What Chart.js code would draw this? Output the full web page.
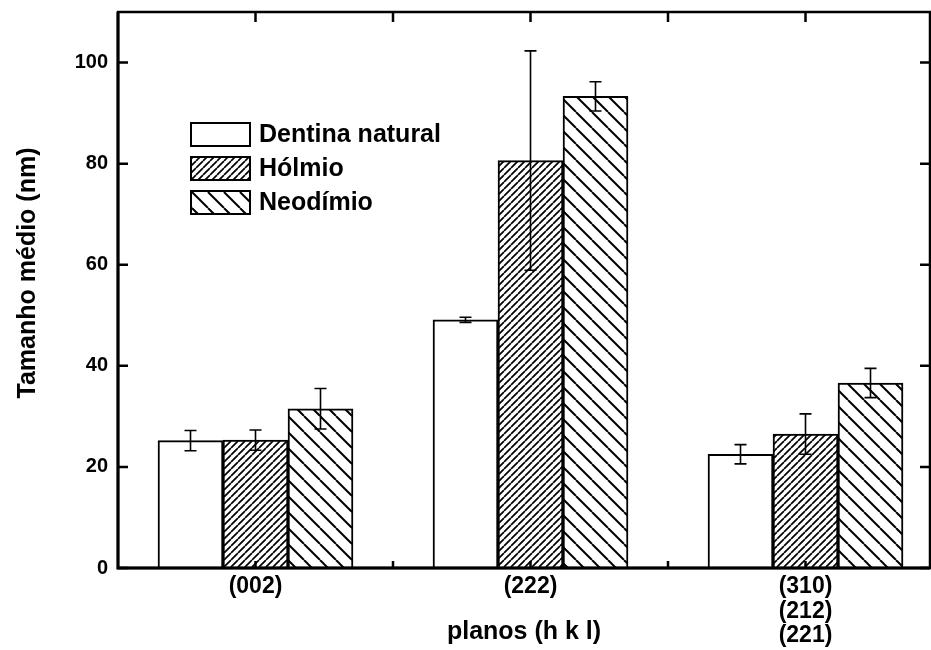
<!DOCTYPE html>
<html><head><meta charset="utf-8">
<script src="https://cdn.jsdelivr.net/npm/chart.js@4.4.0/dist/chart.umd.min.js"></script>
<style>html,body{margin:0;padding:0;background:#fff;overflow:hidden}canvas{display:block}</style>
</head><body>
<canvas id="c" width="931" height="650"></canvas>
<script>
// ---- data ----
const categories = ['(002)', '(222)', ['(310)', '(212)', '(221)']];
const seriesNames = ['Dentina natural', 'Hólmio', 'Neodímio'];
const dentina = [25.2, 49.1, 22.5];
const dentinaErr = [2.0, 0.5, 1.9];
const holmio = [25.3, 80.6, 26.5];
const holmioErr = [2.0, 21.7, 4.0];
const neodimio = [31.5, 93.3, 36.6];
const neodimioErr = [4.0, 2.9, 2.9];
const yTicks = [0, 20, 40, 60, 80, 100];
const xMidTicks = [0.5, 1.5];
const yTitle = 'Tamanho médio (nm)';
const xTitle = 'planos (h k l)';

// ---- styling ----
const FAMILY = '"Liberation Sans", Arial, Helvetica, sans-serif';
const canvas = document.getElementById('c');
const mainCtx = canvas.getContext('2d');

function hatch(size, lw, dir) {
  const c = document.createElement('canvas');
  c.width = size; c.height = size;
  const g = c.getContext('2d');
  g.fillStyle = '#fff'; g.fillRect(0, 0, size, size);
  g.strokeStyle = '#000'; g.lineWidth = lw;
  g.beginPath();
  for (let k = -1; k <= 1; k++) {
    if (dir === '/') { g.moveTo(k * size, size); g.lineTo(k * size + size, 0); }
    else { g.moveTo(k * size, 0); g.lineTo(k * size + size, size); }
  }
  g.stroke();
  return mainCtx.createPattern(c, 'repeat');
}
const fills = ['#ffffff', hatch(7, 1.7, '/'), hatch(16, 2, '\\')];

const seriesValues = [dentina, holmio, neodimio];
const seriesErrors = [dentinaErr, holmioErr, neodimioErr];

const datasets = seriesNames.map((name, si) => ({
  label: name,
  data: seriesValues[si].map((v, i) => ({ x: i, y: v })),
  errors: seriesErrors[si],
  backgroundColor: fills[si],
  borderColor: '#000',
  borderWidth: 2,
  barThickness: 65
}));

const decor = {
  id: 'decor',
  afterDatasetsDraw(chart) {
    const { ctx, chartArea: a, scales: { x, y } } = chart;
    ctx.save();
    // error bars
    ctx.strokeStyle = '#000';
    ctx.lineWidth = 1.6;
    chart.data.datasets.forEach((ds, di) => {
      const meta = chart.getDatasetMeta(di);
      meta.data.forEach((bar, i) => {
        const v = ds.data[i].y, e = ds.errors[i];
        const yt = y.getPixelForValue(v + e), yb = y.getPixelForValue(v - e);
        ctx.beginPath();
        ctx.moveTo(bar.x, yt); ctx.lineTo(bar.x, yb);
        ctx.moveTo(bar.x - 6, yt); ctx.lineTo(bar.x + 6, yt);
        ctx.moveTo(bar.x - 6, yb); ctx.lineTo(bar.x + 6, yb);
        ctx.stroke();
      });
    });
    // frame
    ctx.lineWidth = 2.5;
    ctx.strokeRect(a.left, a.top, a.right - a.left, a.bottom - a.top);
    ctx.lineWidth = 3;
    ctx.beginPath();
    ctx.moveTo(a.left, a.top); ctx.lineTo(a.left, a.bottom); ctx.lineTo(a.right, a.bottom);
    ctx.stroke();
    // inward ticks
    ctx.lineWidth = 2.5;
    ctx.beginPath();
    const xt = categories.map((c, i) => i).concat(xMidTicks);
    xt.forEach(v => {
      const px = x.getPixelForValue(v);
      ctx.moveTo(px, a.top); ctx.lineTo(px, a.top + 10);
      ctx.moveTo(px, a.bottom); ctx.lineTo(px, a.bottom - 7);
    });
    yTicks.forEach(v => {
      const py = y.getPixelForValue(v);
      ctx.moveTo(a.left, py); ctx.lineTo(a.left + 10, py);
      ctx.moveTo(a.right, py); ctx.lineTo(a.right - 10, py);
    });
    ctx.stroke();
    // legend
    const lx = 191, ly = 123, bw = 59, bh = 23, gap = 34;
    ctx.font = 'bold 25px ' + FAMILY;
    ctx.textBaseline = 'middle';
    ctx.textAlign = 'left';
    chart.data.datasets.forEach((ds, di) => {
      const top = ly + di * gap;
      ctx.fillStyle = ds.backgroundColor;
      ctx.fillRect(lx, top, bw, bh);
      ctx.lineWidth = 2;
      ctx.strokeStyle = '#000';
      ctx.strokeRect(lx, top, bw, bh);
      ctx.fillStyle = '#000';
      ctx.fillText(ds.label, lx + bw + 9, top + bh / 2 + 1);
    });
    // y title
    ctx.translate(28, 273);
    ctx.rotate(-Math.PI / 2);
    ctx.textAlign = 'center';
    ctx.fillText(yTitle, 0, 0);
    ctx.restore();
  }
};

new Chart(canvas, {
  type: 'bar',
  data: { datasets },
  options: {
    responsive: false,
    animation: false,
    devicePixelRatio: 1,
    layout: { padding: { top: 12, right: 1, left: 0, bottom: 0 } },
    plugins: { legend: { display: false }, tooltip: { enabled: false } },
    scales: {
      x: {
        type: 'linear', min: -0.5, max: 2.4527, offset: false,
        grid: { display: false, drawTicks: false },
        border: { display: false },
        afterBuildTicks: s => { s.ticks = categories.map((c, i) => ({ value: i })); },
        afterFit: s => { s.height = 82; s.paddingLeft = 0; s.paddingRight = 0; },
        ticks: {
          padding: 7, color: '#000', maxRotation: 0, autoSkip: false,
          font: { family: FAMILY, size: 23, weight: 'bold', lineHeight: 1.05 },
          callback: v => categories[v]
        },
        title: {
          display: true, text: xTitle, color: '#000',
          font: { family: FAMILY, size: 25, weight: 'bold' },
          padding: { top: 0, bottom: 3 }
        }
      },
      y: {
        min: 0, max: 110,
        grid: { display: false, drawTicks: false },
        border: { display: false },
        afterBuildTicks: s => { s.ticks = yTicks.map(v => ({ value: v })); },
        afterFit: s => { s.width = 118; s.paddingTop = 0; s.paddingBottom = 0; },
        ticks: { padding: 10, color: '#000', font: { family: FAMILY, size: 20, weight: 'bold' } }
      }
    }
  },
  plugins: [decor]
});
</script>
</body></html>
